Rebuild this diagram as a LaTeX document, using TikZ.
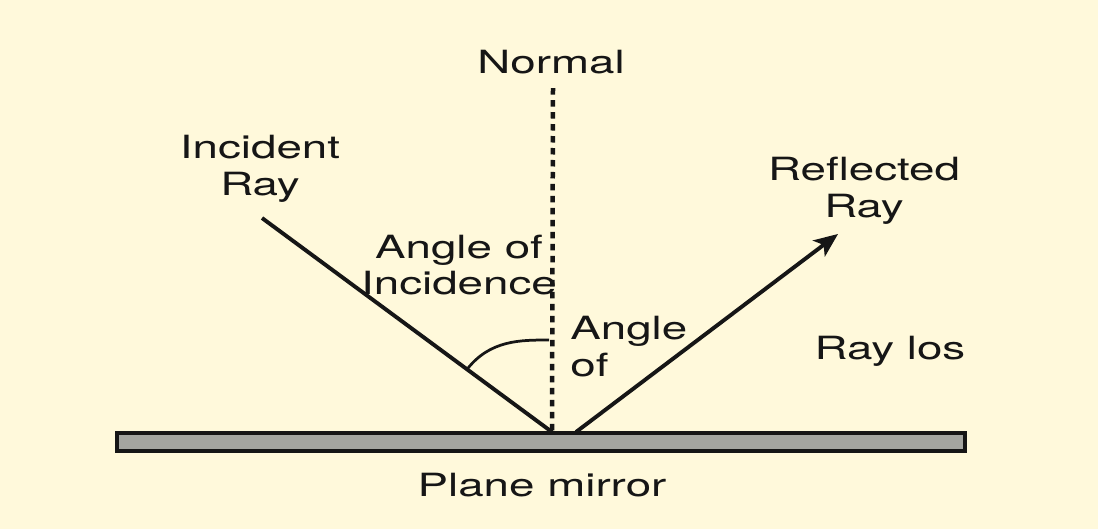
\documentclass[tikz,border=0pt]{standalone}
\usepackage{fontspec}
\usetikzlibrary{calc}
\usetikzlibrary{arrows.meta}
\newfontfamily\lblfont[FakeStretch=1.43]{TeX Gyre Heros}
\definecolor{paper}{RGB}{255,249,219}
\definecolor{glass}{RGB}{164,165,160}
\definecolor{ink}{RGB}{22,22,22}

\begin{document}
\begin{tikzpicture}[x=0.02cm,y=-0.02cm]

		\tikzset{line/.style={draw,ink,line width=0.078cm}}
		\tikzset{arrow/.style={line,-{Stealth[length=0.48cm,width=0.4cm,inset=0.12cm]}}}
		\tikzset{dots/.style={draw,ink,line width=0.09cm,dash pattern=on 0.13cm off 0.11cm}}
		\tikzset{txt/.style={ink,inner sep=0pt,align=center,font=\lblfont\fontsize{18.2}{21}\selectfont}}

		% paper
		\fill[paper] (0,0) rectangle (1098,529);
		\useasboundingbox (0,0) rectangle (1098,529);

		% mirror and points on it
		\draw[line,line width=0.085cm,fill=glass] (117,433) rectangle (965,451);
		\coordinate (hit) at (552,432);
		\coordinate (out) at (576,432);
		\coordinate (top) at (553,88);
		\coordinate (inc) at (262,218);
		\coordinate (tip) at (838,234);

		\path[dots] (top) to (hit);
		\path[line] (inc) to (hit);
		\path[arrow] (out) to (tip);

		% angle mark
		\coordinate (a1) at ($(inc)!0.707!(hit)$);
		\coordinate (a2) at (549,340);
		\draw[ink,line width=0.055cm] (a1) .. controls (490,340) and (520,340) .. (a2);

		\node[txt] (normal) at (551,73) [anchor=base] {Normal};
		\node[txt] (incray) at (260,168.5) {Incident\\Ray};
		\node[txt] (refray) at (864,191) {Reflected\\Ray};
		\node[txt] (incang) at (459,265) {Angle of\\Incidence};
		\node[txt,align=left,anchor=west] (refang) at (570,347) {Angle\\of};
		\node[txt,anchor=base] (raylos) at (890,359) {Ray los};
		\node[txt,anchor=base] (mirror) at (542,496) {Plane mirror};

	\end{tikzpicture}
\end{document}
